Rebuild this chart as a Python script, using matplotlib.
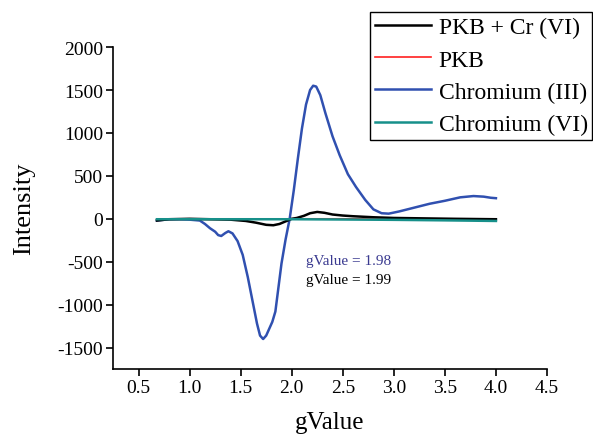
import matplotlib
matplotlib.use('Agg')
import matplotlib.pyplot as plt

plt.rcParams['font.family'] = ['Liberation Serif', 'DejaVu Serif']
plt.rcParams['axes.unicode_minus'] = False

# EPR spectra: gValue vs intensity
g_cr3 = [0.68, 0.8, 0.9, 1.0, 1.05, 1.1, 1.15, 1.2, 1.25, 1.28, 1.31, 1.35, 1.38, 1.42,
         1.47, 1.52, 1.57, 1.62, 1.66, 1.69, 1.72, 1.75, 1.78, 1.81, 1.84, 1.87, 1.90,
         1.94, 1.98, 2.02, 2.06, 2.10, 2.14, 2.18, 2.21, 2.24, 2.28, 2.33, 2.40, 2.47,
         2.55, 2.63, 2.72, 2.80, 2.88, 2.95, 3.05, 3.2, 3.35, 3.5, 3.65, 3.78, 3.88,
         3.95, 4.0]
i_cr3 = [-20, -5, -5, -10, -15, -20, -60, -110, -150, -190, -200, -165, -145, -170,
         -260, -420, -680, -980, -1220, -1360, -1400, -1360, -1280, -1200, -1080, -800,
         -520, -240, 0, 330, 700, 1050, 1330, 1500, 1550, 1540, 1440, 1230, 960, 740,
         520, 370, 220, 110, 65, 60, 85, 130, 175, 210, 250, 265, 258, 245, 240]

g_mix = [0.68, 0.8, 1.0, 1.2, 1.4, 1.55, 1.65, 1.75, 1.82, 1.88, 1.95, 2.0, 2.05, 2.12,
         2.18, 2.25, 2.32, 2.4, 2.5, 2.6, 2.8, 3.0, 3.3, 3.6, 4.0]
i_mix = [-20, -5, 0, -5, -10, -25, -45, -70, -75, -60, -25, 0, 10, 35,
         65, 80, 70, 50, 38, 30, 18, 10, 5, 0, -5]

g_pkb = [0.68, 1.0, 1.5, 2.0, 2.5, 3.0, 3.5, 4.0]
i_pkb = [-10, -5, -5, 0, 0, -5, -5, -10]

g_cr6 = [0.68, 1.0, 1.5, 2.0, 2.5, 3.0, 3.5, 4.0]
i_cr6 = [-5, -5, -5, -5, -8, -12, -18, -25]

x_ticks = [0.5, 1.0, 1.5, 2.0, 2.5, 3.0, 3.5, 4.0, 4.5]
y_ticks = [-1500, -1000, -500, 0, 500, 1000, 1500, 2000]

fig = plt.figure(figsize=(5.93, 4.39), dpi=100)
ax = fig.add_axes([0.1906, 0.157, 0.7318, 0.7335])

l1, = ax.plot(g_mix, i_mix, color='black', lw=1.8, label='PKB + Cr (VI)', zorder=3)
l2, = ax.plot(g_pkb, i_pkb, color='#ff2020', lw=1.2, label='PKB')
l3, = ax.plot(g_cr3, i_cr3, color='#3050b0', lw=1.8, label='Chromium (III)')
l4, = ax.plot(g_cr6, i_cr6, color='#17908a', lw=1.8, label='Chromium (VI)', zorder=4)

ax.set_xlim(0.25, 4.5)
ax.set_ylim(-1750, 2000)
ax.set_xticks(x_ticks)
ax.set_yticks(y_ticks)
ax.set_xticklabels([f'{v:.1f}' for v in x_ticks])
ax.spines['top'].set_visible(False)
ax.spines['right'].set_visible(False)
for s in ('left', 'bottom'):
    ax.spines[s].set_linewidth(1.2)
ax.tick_params(direction='out', length=5, width=1.2, labelsize=14, pad=2)

ax.set_xlabel('gValue', fontsize=18, labelpad=11)
ax.set_ylabel('Intensity', fontsize=19, labelpad=16)

ax.text(2.14, -490, 'gValue = 1.98', color='#3a3a90', fontsize=11, va='center')
ax.text(2.14, -710, 'gValue = 1.99', color='black', fontsize=11, va='center')

leg = fig.legend(handles=[l1, l2, l3, l4], loc='upper left',
                 bbox_to_anchor=(0.624, 0.970), bbox_transform=fig.transFigure,
                 fontsize=17, frameon=True, fancybox=False, framealpha=1,
                 edgecolor='black', borderpad=0.2, labelspacing=0.45,
                 handlelength=2.4, handletextpad=0.3, borderaxespad=0)
leg.get_frame().set_linewidth(1.0)

fig.savefig('out.png', dpi=100)
